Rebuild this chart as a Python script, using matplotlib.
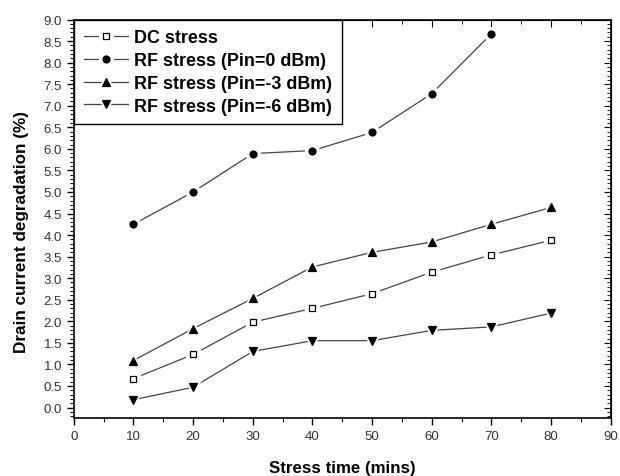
import numpy as np
import matplotlib.pyplot as plt
from matplotlib.ticker import MultipleLocator
from matplotlib.legend_handler import HandlerTuple
from matplotlib.lines import Line2D

plt.rcParams['font.family'] = ['Liberation Sans', 'DejaVu Sans']

# stress time (mins)
t = [10, 20, 30, 40, 50, 60, 70, 80]
t_rf0 = [10, 20, 30, 40, 50, 60, 70]

# drain current degradation (%)
dc = [0.67, 1.23, 1.98, 2.30, 2.64, 3.14, 3.54, 3.88]
rf_0 = [4.25, 5.00, 5.89, 5.96, 6.38, 7.28, 8.67]
rf_m3 = [1.09, 1.83, 2.53, 3.26, 3.60, 3.84, 4.25, 4.64]
rf_m6 = [0.18, 0.47, 1.30, 1.55, 1.55, 1.79, 1.87, 2.19]

series = [
    (t, dc, 's', 'DC stress', 'white', 4.5),
    (t_rf0, rf_0, 'o', 'RF stress (Pin=0 dBm)', 'black', 5),
    (t, rf_m3, '^', 'RF stress (Pin=-3 dBm)', 'black', 6),
    (t, rf_m6, 'v', 'RF stress (Pin=-6 dBm)', 'black', 6),
]
LC = '#444444'

fig = plt.figure(figsize=(6.2, 4.77), dpi=100)
ax = fig.add_axes([0.119, 0.121, 0.866, 0.836])

handles = []
labels = []
for x, y, m, lab, fc, ms in series:
    ax.plot(x, y, '-', color=LC, lw=0.9, zorder=2)
    # white halo so the line stops short of each marker
    ax.plot(x, y, linestyle='none', marker=m, ms=ms + 5, color='white',
            mec='white', zorder=3)
    ax.plot(x, y, linestyle='none', marker=m, ms=ms, mfc=fc, mec='black',
            mew=0.9, zorder=4)
    h = (Line2D([], [], color=LC, lw=0.9),
         Line2D([], [], ls='none', marker=m, ms=ms + 5, color='white', mec='white'),
         Line2D([], [], ls='none', marker=m, ms=ms, mfc=fc, mec='black', mew=0.9))
    handles.append(h)
    labels.append(lab)

leg = ax.legend(handles, labels, handler_map={tuple: HandlerTuple(ndivide=1)},
                loc='upper left', bbox_to_anchor=(0, 1),
                borderaxespad=0, fancybox=False, edgecolor='black',
                prop={'size': 12.9, 'weight': 'bold'}, handlelength=2.5,
                handletextpad=0.3, labelspacing=0.32, borderpad=0.55,
                framealpha=1)
leg.get_frame().set_linewidth(1.0)

ax.set_xlim(0, 90)
ax.set_ylim(-0.25, 9.0)
ax.xaxis.set_major_locator(MultipleLocator(10))
ax.xaxis.set_minor_locator(MultipleLocator(5))
ax.yaxis.set_minor_locator(MultipleLocator(0.1))
ax.yaxis.set_major_formatter(plt.FormatStrFormatter('%.1f'))
ax.set_yticks(np.arange(0, 9.01, 0.5))

ax.tick_params(which='major', direction='out', length=5, width=1,
               labelsize=9.5, labelcolor='#333333')
ax.tick_params(which='minor', direction='out', length=3, width=0.8)

for s in ax.spines.values():
    s.set_linewidth(1.2)

top = ax.secondary_xaxis('top')
top.xaxis.set_major_locator(MultipleLocator(10))
top.xaxis.set_minor_locator(MultipleLocator(5))
top.tick_params(which='major', direction='in', length=5, labeltop=False)
top.tick_params(which='minor', direction='in', length=3)
right = ax.secondary_yaxis('right')
right.yaxis.set_major_locator(MultipleLocator(0.5))
right.yaxis.set_minor_locator(MultipleLocator(0.1))
right.tick_params(which='major', direction='in', length=5, labelright=False)
right.tick_params(which='minor', direction='in', length=3)

ax.set_xlabel('Stress time (mins)', fontsize=12.2, fontweight='bold')
ax.set_ylabel('Drain current degradation (%)', fontsize=12.3, fontweight='bold')
ax.xaxis.set_label_coords(0.5, -0.104)
ax.yaxis.set_label_coords(-0.083, 0.47)

fig.savefig('out.png', dpi=100)
